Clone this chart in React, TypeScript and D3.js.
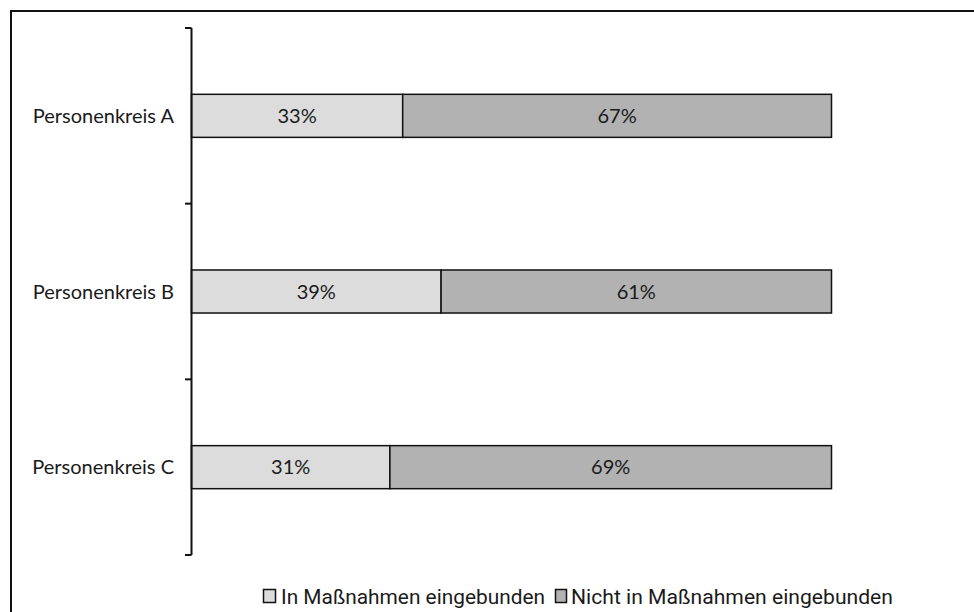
import React from "react";
import * as d3 from "d3";

// Anteil der Personen je Personenkreis, in Prozent
const categories = ["Personenkreis A", "Personenkreis B", "Personenkreis C"];
const eingebunden = [33, 39, 31];
const nichtEingebunden = [67, 61, 69];
const seriesNames = ["In Maßnahmen eingebunden", "Nicht in Maßnahmen eingebunden"];
const seriesColors = ["#dcdcdc", "#b2b2b2"];

const W = 974;
const H = 612;

export default function App() {
  const x = d3.scaleLinear().domain([0, 100]).range([191.5, 831.5]);
  const y = d3.scaleBand<string>().domain(categories).range([28, 555]).padding(0);
  const barH = y.bandwidth() * 0.245;

  const rows = categories.map((c, i) => ({
    cat: c,
    segs: [
      { v0: 0, v1: eingebunden[i], color: seriesColors[0] },
      { v0: eingebunden[i], v1: eingebunden[i] + nichtEingebunden[i], color: seriesColors[1] },
    ],
  }));

  const tickYs = [...categories.map((c) => y(c)!), y(categories[categories.length - 1])! + y.bandwidth()];
  const labelFont = "Lato, 'Open Sans', sans-serif";
  const legendFont = "Roboto, 'Noto Sans', sans-serif";

  return (
    <svg
      width={W}
      height={H}
      style={{ position: "absolute", left: 0, top: 0, background: "#fff" }}
    >
      {/* Rahmen */}
      <rect x={11} y={11} width={W + 40} height={H + 40} fill="none" stroke="#111" strokeWidth={2} />

      {/* Balken */}
      {rows.map((r) => {
        const cy = y(r.cat)! + y.bandwidth() / 2;
        return (
          <g key={r.cat}>
            {r.segs.map((s, j) => (
              <rect
                key={j}
                x={x(s.v0)}
                y={cy - barH / 2}
                width={x(s.v1) - x(s.v0)}
                height={barH}
                fill={s.color}
                stroke="#111"
                strokeWidth={1.5}
              />
            ))}
            {r.segs.map((s, j) => (
              <text
                key={"t" + j}
                x={(x(s.v0) + x(s.v1)) / 2}
                y={cy}
                dy="0.36em"
                textAnchor="middle"
                fontFamily={labelFont}
                fontSize={20}
                fill="#1a1a1a"
              >
                {`${s.v1 - s.v0}%`}
              </text>
            ))}
            <text
              x={174}
              y={cy}
              dy="0.36em"
              textAnchor="end"
              fontFamily={labelFont}
              fontSize={20}
              fill="#1a1a1a"
            >
              {r.cat}
            </text>
          </g>
        );
      })}

      {/* Kategorienachse */}
      <line x1={191.5} x2={191.5} y1={tickYs[0]} y2={tickYs[tickYs.length - 1]} stroke="#111" strokeWidth={2} />
      {tickYs.map((t, i) => (
        <line key={i} x1={185} x2={191.5} y1={t} y2={t} stroke="#111" strokeWidth={2} />
      ))}

      {/* Legende */}
      <rect x={263.5} y={589.5} width={12} height={13} fill={seriesColors[0]} stroke="#111" strokeWidth={1.5} />
      <text x={281} y={604} fontFamily={legendFont} fontSize={20} fill="#1a1a1a" textLength={264} lengthAdjust="spacingAndGlyphs">
        {seriesNames[0]}
      </text>
      <rect x={555.5} y={589.5} width={11} height={13} fill={seriesColors[1]} stroke="#111" strokeWidth={1.5} />
      <text x={571} y={604} fontFamily={legendFont} fontSize={20} fill="#1a1a1a" textLength={322} lengthAdjust="spacingAndGlyphs">
        {seriesNames[1]}
      </text>
    </svg>
  );
}
